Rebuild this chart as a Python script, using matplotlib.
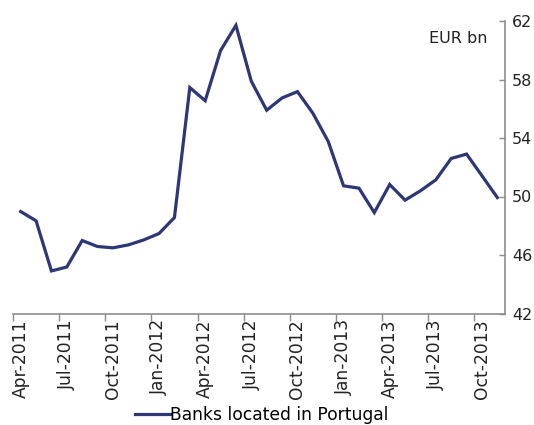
import matplotlib
matplotlib.use("Agg")
import matplotlib.pyplot as plt
import numpy as np

months = ["Apr-2011", "May-2011", "Jun-2011", "Jul-2011", "Aug-2011", "Sep-2011",
          "Oct-2011", "Nov-2011", "Dec-2011", "Jan-2012", "Feb-2012", "Mar-2012",
          "Apr-2012", "May-2012", "Jun-2012", "Jul-2012", "Aug-2012", "Sep-2012",
          "Oct-2012", "Nov-2012", "Dec-2012", "Jan-2013", "Feb-2013", "Mar-2013",
          "Apr-2013", "May-2013", "Jun-2013", "Jul-2013", "Aug-2013", "Sep-2013",
          "Oct-2013", "Nov-2013"]
values = [48.97, 48.34, 44.91, 45.18, 46.99, 46.58, 46.49, 46.69, 47.03, 47.47,
          48.56, 57.45, 56.55, 59.98, 61.7, 57.88, 55.9, 56.74, 57.17, 55.7,
          53.77, 50.73, 50.57, 48.9, 50.82, 49.75, 50.39, 51.14, 52.6, 52.9,
          51.42, 49.93]
series_name = "Banks located in Portugal"
y_ticks = [42, 46, 50, 54, 58, 62]
unit_label = "EUR bn"

plt.rcParams['font.family'] = ['DejaVu Sans']
fig = plt.figure(figsize=(5.34, 4.25), dpi=100)
ax = fig.add_axes([13/534, 1-313.5/425, (505-13)/534, (313.5-21)/425])

x = np.arange(len(months))
line_color = "#2E3675"
axis_color = "#8C8C8C"
text_color = "#222222"
ax.plot(x, values, color=line_color, lw=2.3, solid_joinstyle='miter', label=series_name)

ax.set_xlim(-0.5, len(months) - 0.5)
ax.set_ylim(y_ticks[0], y_ticks[-1])

for s in ["top", "left"]:
    ax.spines[s].set_visible(False)
for s in ["bottom", "right"]:
    ax.spines[s].set_color(axis_color)
    ax.spines[s].set_linewidth(1.2)

ax.yaxis.tick_right()
ax.set_yticks(y_ticks)
ax.set_yticklabels([str(v) for v in y_ticks], fontsize=11.5, color=text_color)
ax.tick_params(axis='y', direction='in', length=4, color=axis_color, width=1.0, pad=5)

label_pos = x[::3]
ax.set_xticks(np.arange(-0.5, len(months) - 1, 3))
ax.set_xticklabels([])
ax.tick_params(axis='x', which='major', direction='out', length=5, color=axis_color, width=1.0)
ax.set_xticks(label_pos, minor=True)
ax.set_xticklabels([months[i] for i in label_pos], minor=True, rotation=90,
                   fontsize=12.3, color=text_color)
ax.tick_params(axis='x', which='minor', length=0, pad=4)

ax.text(0.965, 0.965, unit_label, transform=ax.transAxes, ha='right', va='top',
        fontsize=11.5, color=text_color)

fig.legend(loc='lower center', bbox_to_anchor=(0.49, -0.033), frameon=False,
           fontsize=12.3, handlelength=2.0, handletextpad=0.0)

fig.savefig("out.png", dpi=100)
